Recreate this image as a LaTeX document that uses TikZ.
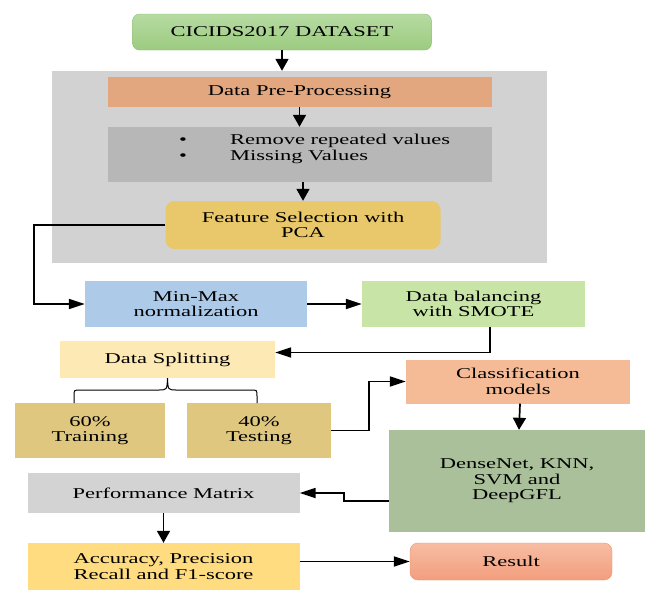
\documentclass[tikz,border=0pt]{standalone}
\usepackage{fontspec}
\setmainfont[FakeStretch=1.5]{Liberation Serif}
\usetikzlibrary{arrows.meta}

\definecolor{dsgreenT}{HTML}{B6DBA2}
\definecolor{dsgreenB}{HTML}{9CCB80}
\definecolor{dsborder}{HTML}{8CBF70}
\definecolor{bggray}{HTML}{D2D2D2}
\definecolor{prepcol}{HTML}{E2A77F}
\definecolor{cleancol}{HTML}{B7B7B7}
\definecolor{featcol}{HTML}{E8C86A}
\definecolor{minmaxcol}{HTML}{ADCBE8}
\definecolor{smotecol}{HTML}{C8E4A6}
\definecolor{splitcol}{HTML}{FDE9B4}
\definecolor{traincol}{HTML}{DFC77F}
\definecolor{classcol}{HTML}{F5BB97}
\definecolor{dnncol}{HTML}{A9C09A}
\definecolor{perfcol}{HTML}{D3D3D3}
\definecolor{acccol}{HTML}{FEDC7F}
\definecolor{resT}{HTML}{F7BDA3}
\definecolor{resB}{HTML}{F29E7D}
\definecolor{resborder}{HTML}{EB8F6A}

\begin{document}
\begin{tikzpicture}[x=1pt, y=-1pt, font=\fontsize{15}{15.5}\selectfont,
    box/.style={rectangle, draw=none, align=center, inner sep=0pt},
    hflow/.style={line width=1.7pt, -{Triangle[length=16pt,width=10pt]}},
    vflow/.style={line width=1.7pt, -{Triangle[length=12pt,width=13pt]}}]
\useasboundingbox (0,0) rectangle (655,590);

    % dataset and pre-processing block
 \node[box, draw=dsborder, rounded corners=7pt, top color=dsgreenT, bottom color=dsgreenB,
       minimum width=299pt, minimum height=36pt] (data) at (282,32) {CICIDS2017 DATASET};
 \node[box, fill=bggray, minimum width=495pt, minimum height=192pt] (bg) at (299.5,167) {};
 \node[box, fill=prepcol, minimum width=384pt, minimum height=30pt] (prep) at (299.5,92) {Data Pre-Processing};
 \node[box, fill=cleancol, minimum width=384pt, minimum height=55pt] (clean) at (299.5,154.5) {};
 \node[box, anchor=west, align=left] (cleantxt) at (179,149)
    {\textbullet\hspace{43pt}Remove repeated values\\\textbullet\hspace{43pt}Missing Values};
 \node[box, fill=featcol, rounded corners=9pt, minimum width=275pt, minimum height=48pt] (feat) at (303,225)
    {Feature Selection with\\PCA};

    % middle rows
 \node[box, fill=minmaxcol, minimum width=222pt, minimum height=46pt] (minmax) at (196,304) {Min-Max\\normalization};
 \node[box, fill=smotecol, minimum width=223pt, minimum height=46pt] (smote) at (473.5,304) {Data balancing\\with SMOTE};
 \node[box, fill=splitcol, minimum width=215pt, minimum height=37pt] (split) at (167.5,359.5) {Data Splitting};
 \node[box, fill=traincol, minimum width=150pt, minimum height=55pt] (train) at (90,430.5) {60\%\\Training};
 \node[box, fill=traincol, minimum width=144pt, minimum height=55pt] (test) at (259,430.5) {40\%\\Testing};
 \node[box, fill=classcol, minimum width=224pt, minimum height=44pt] (classif) at (518,381.5) {Classification\\models};
 \node[box, fill=dnncol, minimum width=256pt, minimum height=102pt] (dnn) at (517,481) {DenseNet, KNN,\\SVM and\\DeepGFL};

    % evaluation
 \node[box, fill=perfcol, minimum width=272pt, minimum height=40pt] (perf) at (163.5,493) {Performance Matrix};
 \node[box, fill=acccol, minimum width=272pt, minimum height=47pt] (acc) at (163.5,566.5) {Accuracy, Precision\\Recall and F1-score};
 \node[box, draw=resborder, rounded corners=8pt, top color=resT, bottom color=resB,
       minimum width=202pt, minimum height=37pt] (result) at (511,561.5) {Result};

    % connectors
 \draw[vflow] (data.south) -- (data.south |- bg.north);
 \draw[vflow] (prep.south) -- (clean.north);
 \draw[vflow] (feat.north |- clean.south) -- (feat.north);
 \draw[hflow] (feat.west) -- ++(-131.5,0) |- (minmax.west);
 \draw[hflow] (minmax.east) -- (smote.west);
 \draw[hflow] ([xshift=16.5pt]smote.south) |- ([yshift=7pt]split.east);
 \draw[line width=1pt] (74,403) -- (74,396) .. controls (74,390) .. (80,390) -- (158,390)
    .. controls (167,390) .. (split.south) .. controls (168,390) .. (177,390) -- (251,390)
    .. controls (257,390) .. (257,396) -- (257,403);
 \draw[hflow] (test.east) -- ++(38,0) |- (classif.west);
 \draw[vflow] ([xshift=2pt]classif.south) -- ([xshift=2pt]dnn.north);
 \draw[hflow] ([yshift=-20pt]dnn.west) -- ++(-45,0) |- (perf.east);
 \draw[vflow] (perf.south) -- (acc.north);
 \draw[hflow] (result.west -| acc.east) -- (result.west);
\end{tikzpicture}
\end{document}
